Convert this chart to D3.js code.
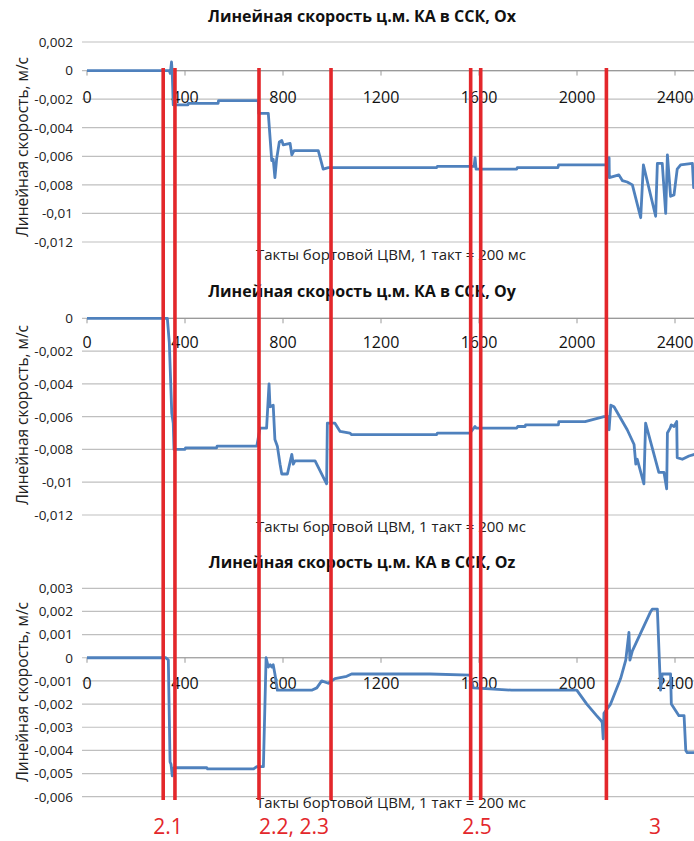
<!DOCTYPE html>
<html>
<head>
<meta charset="utf-8">
<script src="https://cdn.jsdelivr.net/npm/d3@7"></script>
<style>
  body { margin: 0; background: #fff; }
  svg { display: block; font-family: "Open Sans", sans-serif; }
</style>
</head>
<body>
<div id="chart"></div>
<script>
// ---- data (tick number, velocity m/s) ----
const xTicks = [0, 400, 800, 1200, 1600, 2000, 2400];

const oxTicks = [0.002, 0, -0.002, -0.004, -0.006, -0.008, -0.01, -0.012];
const oyTicks = [0, -0.002, -0.004, -0.006, -0.008, -0.01, -0.012];
const ozTicks = [0.003, 0.002, 0.001, 0, -0.001, -0.002, -0.003, -0.004, -0.005, -0.006];

const oxSeries = [
  [0, 0], [336, 0], [340, -0.0002], [345, 0.0006], [348, -0.0002], [352, -0.0024],
  [412, -0.0024], [414, -0.0023], [535, -0.0023], [537, -0.0021], [699, -0.0021],
  [701, -0.0030], [740, -0.0030], [754, -0.0063], [760, -0.0062], [767, -0.0075],
  [774, -0.0062], [785, -0.0050], [795, -0.0049], [801, -0.0052], [829, -0.0051],
  [836, -0.0059], [845, -0.0056], [944, -0.0056], [964, -0.0069], [985, -0.0068],
  [1427, -0.0068], [1430, -0.0067], [1580, -0.0067], [1584, -0.0061], [1588, -0.0069],
  [1754, -0.0069], [1756, -0.0068], [1922, -0.0068], [1925, -0.0066], [2033, -0.0066],
  [2128, -0.0066], [2131, -0.0061], [2132, -0.0075], [2171, -0.0073], [2185, -0.0077],
  [2205, -0.0078], [2226, -0.0080], [2260, -0.0103], [2271, -0.0066], [2321, -0.0102],
  [2328, -0.0065], [2348, -0.0065], [2362, -0.0100], [2369, -0.0059], [2382, -0.0088],
  [2396, -0.0087], [2409, -0.0069], [2423, -0.0066], [2471, -0.0065], [2476, -0.0082],
  [2480, -0.0082]
];

const oySeries = [
  [0, 0], [328, 0], [336, -0.0015], [346, -0.0058], [352, -0.0064], [355, -0.0080],
  [400, -0.0080], [402, -0.0079], [529, -0.0079], [531, -0.0078], [693, -0.0078],
  [706, -0.0067], [733, -0.0067], [743, -0.0040], [747, -0.0054], [760, -0.0053],
  [767, -0.0074], [777, -0.0078], [788, -0.0089], [795, -0.0095], [818, -0.0095],
  [836, -0.0083], [842, -0.0089], [849, -0.0087], [931, -0.0087], [978, -0.0101],
  [981, -0.0064], [1012, -0.0064], [1033, -0.0069], [1073, -0.0070], [1080, -0.0071],
  [1427, -0.0071], [1430, -0.0070], [1563, -0.0070], [1584, -0.0066], [1588, -0.0067],
  [1754, -0.0067], [1758, -0.0066], [1788, -0.0066], [1790, -0.0065], [1924, -0.0065],
  [1926, -0.0063], [2033, -0.0063], [2110, -0.0060], [2128, -0.0060], [2131, -0.0068],
  [2138, -0.0053], [2151, -0.0054], [2205, -0.0068], [2233, -0.0077], [2240, -0.0089],
  [2246, -0.0086], [2273, -0.0101], [2280, -0.0064], [2334, -0.0094], [2355, -0.0094],
  [2366, -0.0104], [2369, -0.0070], [2380, -0.0067], [2385, -0.0065], [2396, -0.0066],
  [2407, -0.0063], [2409, -0.0085], [2430, -0.0086], [2457, -0.0084], [2480, -0.0083]
];

const ozSeries = [
  [0, 0], [322, 0], [332, -0.0001], [339, -0.0045], [343, -0.0046], [348, -0.0051],
  [355, -0.00475], [489, -0.00475], [492, -0.0048], [680, -0.0048], [693, -0.0047],
  [720, -0.0047], [731, 0], [740, -0.0004], [748, -0.0003], [754, -0.0004],
  [760, -0.0003], [767, -0.0007], [777, -0.0014], [917, -0.0014], [938, -0.0013],
  [958, -0.0010], [985, -0.0011], [1012, -0.0009], [1060, -0.0008], [1080, -0.0007],
  [1400, -0.0007], [1563, -0.00075], [1577, -0.0013], [1733, -0.0014], [1999, -0.0014],
  [2040, -0.0020], [2080, -0.0025], [2097, -0.0027], [2103, -0.0028], [2107, -0.0035],
  [2110, -0.0024], [2137, -0.0020], [2178, -0.0009], [2199, -0.0001], [2212, 0.0011],
  [2216, -0.0001], [2226, 0.0003], [2301, 0.0020], [2307, 0.0021], [2328, 0.0021],
  [2341, -0.0014], [2348, -0.0007], [2355, -0.0007], [2382, -0.0007], [2385, -0.0020],
  [2416, -0.0025], [2437, -0.0025], [2444, -0.0040], [2450, -0.0041], [2480, -0.0041]
];

// stage boundaries (red lines) and their labels
const stageTicks = [311, 359, 702, 996, 1566, 1607, 2120];
const stageLabels = ["2.1", "2.2, 2.3", "2.5", "3"];
const stageLabelTicks = [331, 845, 1592, 2318];

const titles = [
  "Линейная скорость ц.м. КА в ССК, Ox",
  "Линейная скорость ц.м. КА в ССК, Oy",
  "Линейная скорость ц.м. КА в ССК, Oz"
];
const xTitle = "Такты бортовой ЦВМ, 1 такт = 200 мс";
const yTitle = "Линейная скорость, м/с";

// ---- layout ----
const width = 694, height = 841;
const blue = "#4f81bd", red = "#e3272b";

const panels = [
  { title: titles[0], data: oxSeries, ticks: oxTicks, domain: [-0.012, 0.002], top: 42, bottom: 242,
    titleY: 22, tickY: 103, xTitleY: 260, yTitleY: 147 },
  { title: titles[1], data: oySeries, ticks: oyTicks, domain: [-0.012, 0], top: 318.3, bottom: 515,
    titleY: 297, tickY: 348, xTitleY: 532, yTitleY: 415 },
  { title: titles[2], data: ozSeries, ticks: ozTicks, domain: [-0.006, 0.003], top: 588.3, bottom: 796.7,
    titleY: 568, tickY: 689, xTitleY: 808, yTitleY: 692 }
];

const ru = d3.formatLocale({ decimal: ",", thousands: " ", grouping: [3], currency: ["", ""], minus: "-" });
const fmt = v => Math.abs(v) < 1e-12 ? "0" : ru.format("~g")(v);

const x = d3.scaleLinear().domain([0, 2480]).range([87, 694.6]);

const svg = d3.select("#chart")
  .append("svg")
  .attr("width", width)
  .attr("height", height);

panels.forEach(p => {
  const y = d3.scaleLinear().domain(p.domain).range([p.bottom, p.top]);
  const g = svg.append("g");

  // horizontal gridlines
  g.selectAll(".grid")
    .data(p.ticks)
    .enter().append("line")
    .attr("x1", 82).attr("x2", width)
    .attr("y1", d => y(d)).attr("y2", d => y(d))
    .style("stroke", "#bfbfbf")
    .style("stroke-width", 1.2);

  // y tick labels
  g.selectAll(".ylab")
    .data(p.ticks)
    .enter().append("text")
    .attr("x", 73)
    .attr("y", d => y(d))
    .attr("dy", "0.36em")
    .style("text-anchor", "end")
    .style("font-size", "13.5px")
    .style("fill", "#222")
    .text(fmt);

  // x axis at zero
  const y0 = y(0);
  g.append("line")
    .attr("x1", x(0)).attr("x2", width)
    .attr("y1", y0).attr("y2", y0)
    .style("stroke", "#9a9a9a")
    .style("stroke-width", 1.2);

  g.selectAll(".xtick")
    .data(xTicks)
    .enter().append("line")
    .attr("x1", d => x(d)).attr("x2", d => x(d))
    .attr("y1", y0).attr("y2", y0 + 5)
    .style("stroke", "#9a9a9a");

  g.selectAll(".xlab")
    .data(xTicks)
    .enter().append("text")
    .attr("x", d => x(d))
    .attr("y", p.tickY)
    .style("text-anchor", "middle")
    .style("font-size", "16px")
    .style("fill", "#111")
    .text(d => d);

  // titles
  g.append("text")
    .attr("x", 362)
    .attr("y", p.titleY)
    .style("text-anchor", "middle")
    .style("font-size", "16px")
    .style("font-weight", "700")
    .style("fill", "#111")
    .text(p.title);

  g.append("text")
    .attr("x", 391)
    .attr("y", p.xTitleY)
    .style("text-anchor", "middle")
    .style("font-size", "15px")
    .style("fill", "#222")
    .text(xTitle);

  g.append("text")
    .attr("transform", `translate(23,${p.yTitleY}) rotate(-90)`)
    .attr("dy", "0.35em")
    .style("text-anchor", "middle")
    .style("font-size", "15.5px")
    .style("fill", "#222")
    .text(yTitle);

  // series
  const line = d3.line()
    .x(d => x(d[0]))
    .y(d => y(d[1]));

  g.append("path")
    .datum(p.data)
    .attr("d", line)
    .style("fill", "none")
    .style("stroke", blue)
    .style("stroke-width", 2.8)
    .style("stroke-linejoin", "round");
});

// red stage lines over all three charts
svg.selectAll(".stage")
  .data(stageTicks)
  .enter().append("line")
  .attr("x1", d => x(d)).attr("x2", d => x(d))
  .attr("y1", 68).attr("y2", 800)
  .style("stroke", red)
  .style("stroke-width", 3.6);

svg.selectAll(".stageLabel")
  .data(stageLabels)
  .enter().append("text")
  .attr("x", (d, i) => x(stageLabelTicks[i]))
  .attr("y", 834)
  .style("text-anchor", "middle")
  .style("font-size", "21px")
  .style("fill", red)
  .text(d => d);
</script>
</body>
</html>
